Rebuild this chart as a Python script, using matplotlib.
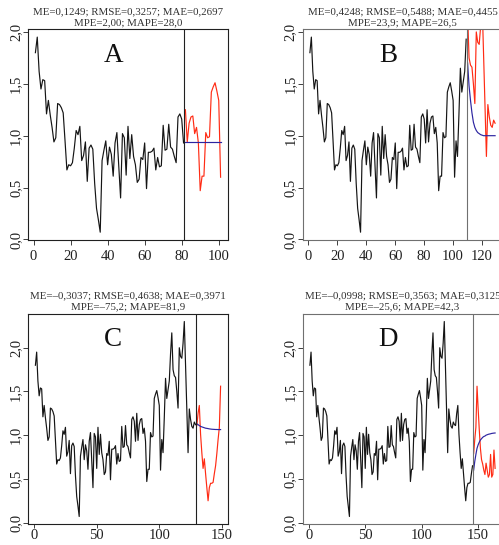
import matplotlib
matplotlib.use("Agg")
import matplotlib.pyplot as plt
import numpy as np

plt.rcParams['font.family'] = ['Liberation Serif', 'DejaVu Serif']

# observed series, one value per time step (t = 1 .. 165)
observed = [
    1.80, 1.95, 1.62, 1.45, 1.54, 1.53, 1.21, 1.34, 1.20, 1.08,
    0.94, 0.98, 1.31, 1.30, 1.27, 1.22, 0.95, 0.67, 0.72, 0.71,
    0.74, 0.88, 1.05, 1.01, 1.09, 0.76, 0.81, 0.94, 0.56, 0.88,
    0.91, 0.87, 0.54, 0.30, 0.19, 0.07, 0.76, 0.86, 0.95, 0.72,
    0.89, 0.82, 0.61, 0.93, 1.03, 0.71, 0.40, 1.02, 0.98, 0.62,
    1.09, 0.78, 1.01, 0.80, 0.72, 0.55, 0.58, 0.79, 0.77, 0.93,
    0.49, 0.84, 0.84, 0.85, 0.88, 0.67, 0.79, 0.70, 0.71, 1.10,
    0.86, 0.87, 1.11, 0.89, 0.87, 0.80, 0.74, 1.18, 1.21, 1.16,
    0.93, 1.25, 0.94, 1.12, 1.18, 1.19, 1.02, 1.08, 0.93, 0.47,
    0.61, 0.61, 1.03, 0.98, 0.99, 1.42, 1.47, 1.51, 1.43, 1.34,
    0.60, 0.95, 0.80, 1.20, 1.65, 1.42, 1.52, 1.62, 1.93, 2.17,
    1.75, 1.68, 1.66, 1.50, 1.31, 2.00, 1.90, 1.88, 2.05, 2.30,
    1.80, 1.30, 0.80, 1.30, 1.18, 1.10, 1.08, 1.15, 1.12, 1.11,
    1.25, 1.34, 1.01, 0.80, 0.62, 0.73, 0.56, 0.40, 0.25, 0.40,
    0.45, 0.45, 0.46, 0.56, 0.65, 0.79, 0.95, 1.09, 1.56, 1.30,
    1.06, 0.85, 0.72, 0.67, 0.60, 0.55, 0.68, 0.60, 0.52, 0.55,
    0.78, 0.52, 0.55, 0.83, 0.62,
]

# model forecasts for the 20 steps after each training cut
forecast_a = [0.935, 0.935, 0.935, 0.935, 0.935, 0.935, 0.935, 0.935, 0.935, 0.935,
              0.935, 0.935, 0.935, 0.935, 0.935, 0.935, 0.935, 0.935, 0.935, 0.935]
forecast_b = [1.70, 1.48, 1.34, 1.22, 1.13, 1.08, 1.05, 1.03, 1.02, 1.01,
              1.005, 1.00, 1.00, 1.00, 1.00, 1.00, 1.00, 1.00, 1.00, 1.00]
forecast_c = [1.13, 1.12, 1.11, 1.10, 1.095, 1.09, 1.085, 1.08, 1.078, 1.075,
              1.072, 1.07, 1.068, 1.067, 1.066, 1.065, 1.065, 1.064, 1.064, 1.064]
forecast_d = [0.60, 0.70, 0.78, 0.85, 0.89, 0.92, 0.945, 0.96, 0.975, 0.985,
              0.99, 1.00, 1.005, 1.01, 1.013, 1.016, 1.02, 1.022, 1.024, 1.025]

train_ends = [81, 109, 129, 145]
horizon = 20
letters = ["A", "B", "C", "D"]
x_steps = [20, 20, 50, 50]
scores = [
    "ME=0,1249; RMSE=0,3257; MAE=0,2697\nMPE=2,00; MAPE=28,0",
    "ME=0,4248; RMSE=0,5488; MAE=0,4455\nMPE=23,9; MAPE=26,5",
    "ME=\u20130,3037; RMSE=0,4638; MAE=0,3971\nMPE=\u201375,2; MAPE=81,9",
    "ME=\u20130,0998; RMSE=0,3563; MAE=0,3125\nMPE=\u201325,6; MAPE=42,3",
]
forecasts = [forecast_a, forecast_b, forecast_c, forecast_d]

W, H = 499, 545
fig = plt.figure(figsize=(W / 100, H / 100), dpi=100)

# plot boxes in pixels: left, top, width, height (right column runs past the edge)
boxes = [(28, 29.3, 200, 210.7), (302.5, 29.3, 200, 210.7),
         (28, 313.7, 200, 210.6), (302.5, 313.7, 200, 210.6)]
frame_cols = ["#202020", "#707070", "#202020", "#707070"]

y = np.array(observed)
for i in range(4):
    left, top, w, h = boxes[i]
    ax = fig.add_axes([left / W, 1 - (top + h) / H, w / W, h / H])
    n = train_ends[i]
    t_train = np.arange(1, n + 1)
    t_test = np.arange(n + 1, n + horizon + 1)

    ax.plot(t_train, y[:n], color="#151515", lw=0.85)
    ax.plot(t_test, y[n:n + horizon], color="#ff2b14", lw=0.85)
    ax.plot(t_test, forecasts[i], color="#2c24a0", lw=0.85)
    ax.axvline(n + 0.5, color=frame_cols[i], lw=0.8)

    # R-style 4% padding around the data range
    end = n + horizon
    xpad = 0.04 * (end - 1)
    ax.set_xlim(1 - xpad, end + xpad)
    lo, hi = y[:n].min(), y[:n].max()
    ypad = 0.04 * (hi - lo)
    ax.set_ylim(lo - ypad, hi + ypad)

    xt = np.arange(0, end + xpad, x_steps[i])
    ax.set_xticks(xt)
    ax.set_xticklabels([str(int(v)) for v in xt])
    yt = [0.0, 0.5, 1.0, 1.5, 2.0]
    ax.set_yticks(yt)
    ax.set_yticklabels([f"{v:.1f}".replace(".", ",") for v in yt],
                       rotation=90, va="center")
    ax.tick_params(direction="out", length=3.8, width=0.6, labelsize=10.5,
                   colors="#202020")
    if i < 2:
        ax.tick_params(axis="x", pad=3.5)
    else:
        ax.tick_params(axis="x", length=3.0, pad=0.3)
    ax.tick_params(axis="y", pad=0.3)
    for sp in ax.spines.values():
        sp.set_color(frame_cols[i])
        sp.set_linewidth(0.8)

    ax.set_title(scores[i], fontsize=7.8, linespacing=1.3, pad=3.0,
                 color="#303030")
    ax.text(0.427, 0.877, letters[i], transform=ax.transAxes, fontsize=19.5,
            ha="center", va="center", color="#101010")

fig.savefig("out.png", dpi=100)
